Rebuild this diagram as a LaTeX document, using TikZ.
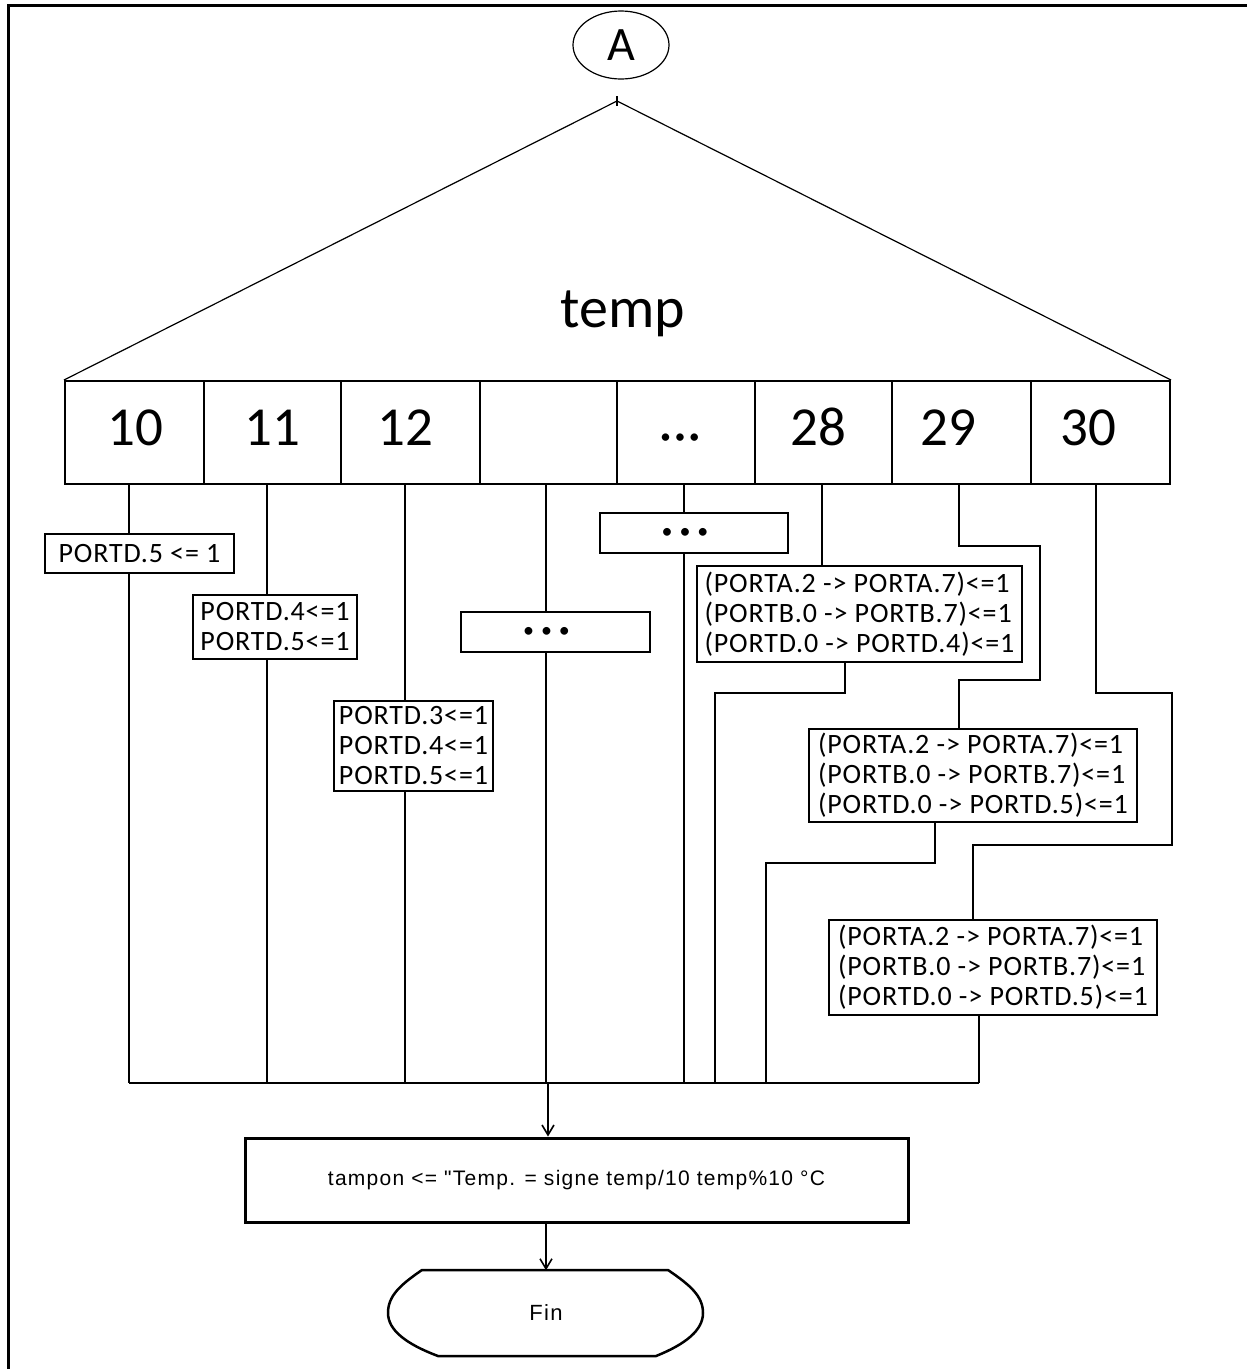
\documentclass[tikz,border=0pt]{standalone}
\usepackage{fontspec}
\setmainfont{Carlito}
\newfontfamily\boxfont{Carlito}[LetterSpace=3]
\newfontfamily\arialfont{Liberation Sans}[LetterSpace=6]
\usetikzlibrary{shapes.geometric,arrows.meta}

% cell label: shifted horizontally by #1, baseline placed 13pt below the cell centre
\newcommand{\celltext}[2]{\hspace*{#1}\smash{\raisebox{-13pt}{#2}}}

\begin{document}
\begin{tikzpicture}[x=1pt,y=-1pt,
  wire/.style={line width=2pt},
  flow/.style={line width=2pt,-{Straight Barb[length=10pt,width=12pt,line width=1.6pt]}},
  cell/.style={draw,line width=2pt,minimum height=103pt,inner sep=0pt,
    font=\fontsize{55}{55}\selectfont},
  actbox/.style={draw,line width=1.8pt,inner sep=0pt,align=left,
    font=\boxfont\fontsize{28}{30}\selectfont},
  dotbox/.style={draw,line width=1.8pt,inner sep=0pt,minimum height=40pt,
    font=\fontsize{22}{22}\selectfont}]

\useasboundingbox (0,0) rectangle (1247,1369);

% page frame
\draw[line width=3pt] (8,1369) -- (8,5) -- (1247,5);

% connector A
\node[draw,ellipse,line width=1.2pt,minimum width=96pt,minimum height=68pt,inner sep=0pt,
  font=\fontsize{48}{48}\selectfont] (A) at (621,45) {A};

% selection on temp
\coordinate (apex) at (617,101);
\node[font=\fontsize{58}{58}\selectfont] (sel) at (623,314) {temp};

\node[cell,minimum width=139pt] (c10) at (134.5,432.5) {\celltext{2pt}{10}};
\node[cell,minimum width=137pt] (c11) at (272.5,432.5) {\celltext{0pt}{11}};
\node[cell,minimum width=139pt] (c12) at (410.5,432.5) {\celltext{-11pt}{12}};
\node[cell,minimum width=137pt] (c13) at (548.5,432.5) {};
\node[cell,minimum width=138pt] (c14) at (686,432.5)
  {\hspace*{-12pt}\smash{\raisebox{-11pt}{\fontsize{21}{21}\selectfont\textbullet\hspace{4pt}\textbullet\hspace{4pt}\textbullet}}};
\node[cell,minimum width=137pt] (c28) at (823.5,432.5) {\celltext{-11pt}{28}};
\node[cell,minimum width=139pt] (c29) at (961.5,432.5) {\celltext{-27pt}{29}};
\node[cell,minimum width=139pt] (c30) at (1100.5,432.5) {\celltext{-25pt}{30}};

\draw[line width=1.2pt] (c10.north west) -- (apex) -- (c30.north east);
\draw[line width=1.2pt] (apex) ++(0,-5) -- ++(0,10);

% actions of each case
\node[actbox,minimum width=189pt,minimum height=39pt] (b10) at (139.5,553.5) {PORTD.5 <= 1};
\node[actbox,minimum width=164pt,minimum height=64pt] (b11) at (275,627) {PORTD.4<=1\\PORTD.5<=1};
\node[actbox,minimum width=159pt,minimum height=90pt] (b12) at (413.5,746) {PORTD.3<=1\\PORTD.4<=1\\PORTD.5<=1};
\node[dotbox,minimum width=189pt] (d13) at (555.5,632)
  {\hspace*{-18pt}\textbullet\hspace{7pt}\textbullet\hspace{7pt}\textbullet};
\node[dotbox,minimum width=188pt] (d14) at (694,533)
  {\hspace*{-18pt}\textbullet\hspace{7pt}\textbullet\hspace{7pt}\textbullet};
\node[actbox,minimum width=325pt,minimum height=96pt] (b28) at (859.5,614)
  {(PORTA.2 -> PORTA.7)<=1\\(PORTB.0 -> PORTB.7)<=1\\(PORTD.0 -> PORTD.4)<=1};
\node[actbox,minimum width=328pt,minimum height=93pt] (b29) at (973,775.5)
  {(PORTA.2 -> PORTA.7)<=1\\(PORTB.0 -> PORTB.7)<=1\\(PORTD.0 -> PORTD.5)<=1};
\node[actbox,minimum width=328pt,minimum height=95pt] (b30) at (993,967.5)
  {(PORTA.2 -> PORTA.7)<=1\\(PORTB.0 -> PORTB.7)<=1\\(PORTD.0 -> PORTD.5)<=1};

% routing points
\coordinate (k10) at (129,1083);
\coordinate (k11) at (267,1083);
\coordinate (k12) at (405,1083);
\coordinate (k13) at (546,1083);
\coordinate (k14) at (684,1083);
\coordinate (u28) at (822,500);
\coordinate (j28) at (845,693);
\coordinate (k28) at (715,1083);
\coordinate (p29a) at (959,546);
\coordinate (p29b) at (1040,680);
\coordinate (j29) at (935,863);
\coordinate (k29) at (766,1083);
\coordinate (p30a) at (1096,693);
\coordinate (p30b) at (1172,845);
\coordinate (p30c) at (973,920);
\coordinate (k30) at (979,1083);
\coordinate (merge) at (548,1083);

% branches
\draw[wire] (c10.south -| k10) -- (b10.north -| k10);
\draw[wire] (b10.south -| k10) -- (k10);
\draw[wire] (c11.south -| k11) -- (b11.north -| k11);
\draw[wire] (b11.south -| k11) -- (k11);
\draw[wire] (c12.south -| k12) -- (b12.north -| k12);
\draw[wire] (b12.south -| k12) -- (k12);
\draw[wire] (c13.south -| k13) -- (d13.north -| k13);
\draw[wire] (d13.south -| k13) -- (k13);
\draw[wire] (c14.south -| k14) -- (d14.north -| k14);
\draw[wire] (d14.south -| k14) -- (k14);
\draw[wire] (c28.south -| u28) -- (b28.north -| u28);
\draw[wire] (b28.south -| j28) -- (j28) -| (k28);
\draw[wire] (c29.south -| p29a) -- (p29a) -| (p29b) -| (b29.north -| p29a);
\draw[wire] (b29.south -| j29) -- (j29) -| (k29);
\draw[wire] (c30.south -| p30a) -- (p30a) -| (p30b) -| (b30.north -| p30c);
\draw[wire] (b30.south -| k30) -- (k30);

% join
\draw[wire] (k10) -- (k30);

\node[draw,line width=3pt,minimum width=663pt,minimum height=84pt,inner sep=0pt,
  font=\arialfont\fontsize{21}{21}\selectfont] (tampon) at (576.5,1180)
  {tampon <= "Temp. = signe temp/10 temp\%10 °C};

\node[minimum width=315pt,minimum height=85pt,inner sep=0pt,
  font=\arialfont\fontsize{22}{22}\selectfont] (fin) at (546,1313) {Fin};
\draw[line width=2.5pt] (422,1270) -- (668,1270)
  .. controls (690,1285) and (703,1296) .. (703,1313)
  .. controls (703,1330) and (686,1344) .. (656,1356) -- (438,1356)
  .. controls (406,1344) and (388,1330) .. (388,1313)
  .. controls (388,1296) and (400,1285) .. (422,1270) -- cycle;

\draw[flow] (merge) -- (tampon.north -| merge);
\draw[flow] (tampon.south -| fin.north) -- (fin.north);

\end{tikzpicture}
\end{document}
